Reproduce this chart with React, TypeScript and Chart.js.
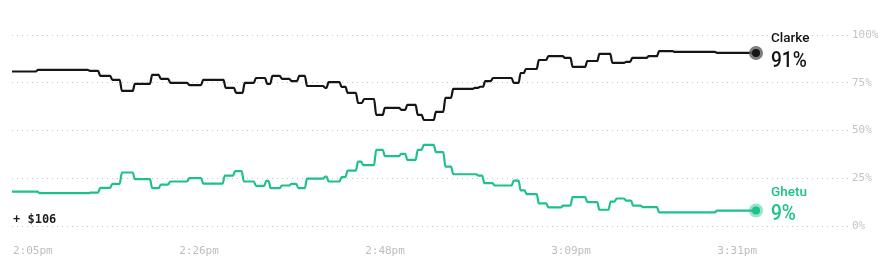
import React, { useEffect, useRef } from "react";
import { Chart, registerables } from "chart.js";

Chart.register(...registerables);

// minutes after 2:05pm where each level starts
const clarkeTimes = [0, 3.0, 9.0, 10.2, 11.6, 12.7, 14.2, 16.2, 17.2, 18.3, 20.5, 22.1, 24.7, 25.9, 26.9, 28.2, 29.5, 30.1, 31.2, 32.3, 33.2, 34.1, 36.2, 36.6, 38.1, 38.8, 40.0, 40.7, 42.1, 43.1, 45.0, 45.7, 46.9, 47.6, 49.0, 50.1, 51.0, 53.5, 54.1, 54.7, 55.6, 58.0, 58.8, 59.4, 60.9, 62.0, 63.9, 64.8, 66.5, 67.9, 69.4, 71.0, 71.7, 73.6, 74.8, 76.6, 81.5, 86.0];
const clarkeValues = [80.9, 81.7, 81.2, 78.6, 76.5, 70.7, 74.4, 79.1, 77.0, 74.9, 73.8, 76.5, 72.3, 69.7, 74.9, 77.5, 74.4, 78.6, 77.0, 75.9, 78.6, 73.3, 72.3, 75.3, 72.8, 69.7, 64.4, 66.5, 58.2, 61.8, 60.8, 63.4, 58.2, 55.5, 59.7, 67.1, 71.8, 72.3, 72.9, 75.9, 77.5, 74.9, 80.1, 82.2, 86.9, 88.9, 88.0, 83.3, 86.4, 90.1, 85.4, 85.9, 88.0, 88.9, 91.6, 91.2, 90.6, 90.6];

const ghetuTimes = [0, 3.2, 9.1, 10.2, 11.6, 12.7, 14.2, 16.2, 17.2, 18.3, 20.5, 22.1, 24.6, 25.8, 26.8, 28.2, 29.4, 29.9, 31.2, 32.3, 33.1, 34.1, 36.2, 36.6, 38.1, 38.8, 40.0, 40.6, 42.1, 43.1, 45.0, 45.7, 46.9, 47.6, 49.0, 50.1, 51.0, 53.9, 54.6, 55.8, 58.0, 58.8, 59.5, 60.9, 62.0, 63.7, 64.8, 66.5, 67.9, 69.2, 69.9, 71.0, 71.8, 72.9, 74.8, 81.5, 86.0];
const ghetuValues = [18.0, 17.2, 17.5, 20.0, 22.1, 28.0, 24.5, 19.8, 21.7, 23.3, 25.1, 22.2, 26.4, 28.7, 23.3, 21.0, 23.6, 19.8, 21.2, 22.1, 19.8, 24.8, 25.9, 23.3, 25.6, 29.0, 33.7, 31.9, 39.9, 36.6, 37.8, 34.6, 39.9, 42.5, 38.7, 31.1, 27.1, 26.4, 22.4, 21.2, 23.8, 18.6, 16.7, 11.8, 9.7, 10.7, 15.1, 12.5, 8.5, 12.8, 14.4, 13.3, 10.7, 9.9, 7.1, 8.1, 8.1];

const xTickValues = [0, 21.5, 43, 64.5, 86];
const xTickLabels = ["2:05pm", "2:26pm", "2:48pm", "3:09pm", "3:31pm"];
const yTickValues = [0, 25, 50, 75, 100];

const seriesNames = ["Clarke", "Ghetu"];
const seriesLabels = ["91%", "9%"];
const winnings = "+ $106";

const CLARKE = "#151515";
const GREEN = "#1dc286";
const MONO = '"DejaVu Sans Mono", monospace';

function buildSteps(times: number[], values: number[]) {
  const pts: { x: number; y: number }[] = [];
  for (let i = 0; i < times.length; i++) {
    if (i > 0) pts.push({ x: times[i] - 0.25, y: values[i - 1] });
    pts.push({ x: times[i], y: values[i] });
  }
  return pts;
}

export default function App() {
  const ref = useRef<HTMLCanvasElement>(null);
  useEffect(() => {
    if (!ref.current) return;
    const overlay = {
      id: "overlay",
      afterDatasetsDraw(chart: any) {
        const ctx = chart.ctx;
        const xs = chart.scales.x;
        const area = chart.chartArea;
        // x labels
        ctx.save();
        ctx.font = `11px ${MONO}`;
        ctx.fillStyle = "#bdbdbd";
        ctx.textBaseline = "middle";
        xTickValues.forEach((v, i) => {
          const px = xs.getPixelForValue(v);
          ctx.textAlign = i === 0 ? "left" : i === xTickValues.length - 1 ? "right" : "center";
          ctx.fillText(xTickLabels[i], px + 1, area.bottom + 25);
        });
        // winnings
        ctx.font = `bold 12px ${MONO}`;
        ctx.fillStyle = "#1c1c1c";
        ctx.textAlign = "left";
        ctx.textBaseline = "alphabetic";
        ctx.fillText(winnings, area.left + 1, area.bottom - 3);
        // end markers and labels
        const specs = [
          { di: 0, halo: "rgba(95,95,95,0.8)", dot: CLARKE, text: "#141414", nameOff: -11.3, valOff: 14 },
          { di: 1, halo: "rgba(29,194,134,0.45)", dot: GREEN, text: GREEN, nameOff: -14.4, valOff: 9 },
        ];
        specs.forEach((s) => {
          const meta = chart.getDatasetMeta(s.di);
          const last = meta.data[meta.data.length - 1];
          const x = last.x;
          const y = last.y;
          ctx.beginPath();
          ctx.arc(x, y, 7, 0, Math.PI * 2);
          ctx.fillStyle = s.halo;
          ctx.fill();
          ctx.beginPath();
          ctx.arc(x, y, 4, 0, Math.PI * 2);
          ctx.fillStyle = s.dot;
          ctx.fill();
          ctx.fillStyle = s.text;
          ctx.textAlign = "left";
          ctx.font = '500 13.5px Roboto, "Liberation Sans", Arial, sans-serif';
          ctx.fillText(seriesNames[s.di], x + 15, y + s.nameOff);
          ctx.save();
          ctx.translate(x + 15, y + s.valOff);
          ctx.scale(0.85, 1);
          ctx.font = '500 22.5px Roboto, "Liberation Sans", Arial, sans-serif';
          ctx.fillText(seriesLabels[s.di], 0, 0);
          ctx.restore();
        });
        ctx.restore();
      },
    };
    const chart = new Chart(ref.current, {
      type: "line",
      data: {
        datasets: [
          {
            label: seriesNames[0],
            data: buildSteps(clarkeTimes, clarkeValues),
            borderColor: CLARKE,
            borderWidth: 2.2,
            pointRadius: 0,
            cubicInterpolationMode: "monotone",
          },
          {
            label: seriesNames[1],
            data: buildSteps(ghetuTimes, ghetuValues),
            borderColor: GREEN,
            borderWidth: 2.2,
            pointRadius: 0,
            cubicInterpolationMode: "monotone",
          },
        ],
      },
      options: {
        animation: false,
        responsive: true,
        maintainAspectRatio: false,
        layout: { padding: { left: 4, top: 27, bottom: 33, right: 0 } },
        plugins: { legend: { display: false }, tooltip: { enabled: false } },
        scales: {
          x: {
            type: "linear",
            display: false,
            min: 0,
            max: (86 * 836) / 744,
          },
          y: {
            position: "right",
            min: 0,
            max: 100,
            afterFit(scale: any) {
              scale.width = 32;
            },
            afterBuildTicks(scale: any) {
              scale.ticks = yTickValues.map((v) => ({ value: v }));
            },
            grid: { color: "#c8c8c8", lineWidth: 1, drawTicks: false },
            border: { display: false, dash: [1, 4] },
            ticks: {
              padding: 4,
              color: "#c4c4c4",
              font: { family: MONO, size: 11 },
              callback: (v: any) => `${v}%`,
            },
          },
        },
      },
      plugins: [overlay],
    });
    return () => chart.destroy();
  }, []);
  return (
    <div style={{ width: "100%", height: 251, position: "relative" }}>
      <canvas ref={ref} />
    </div>
  );
}
